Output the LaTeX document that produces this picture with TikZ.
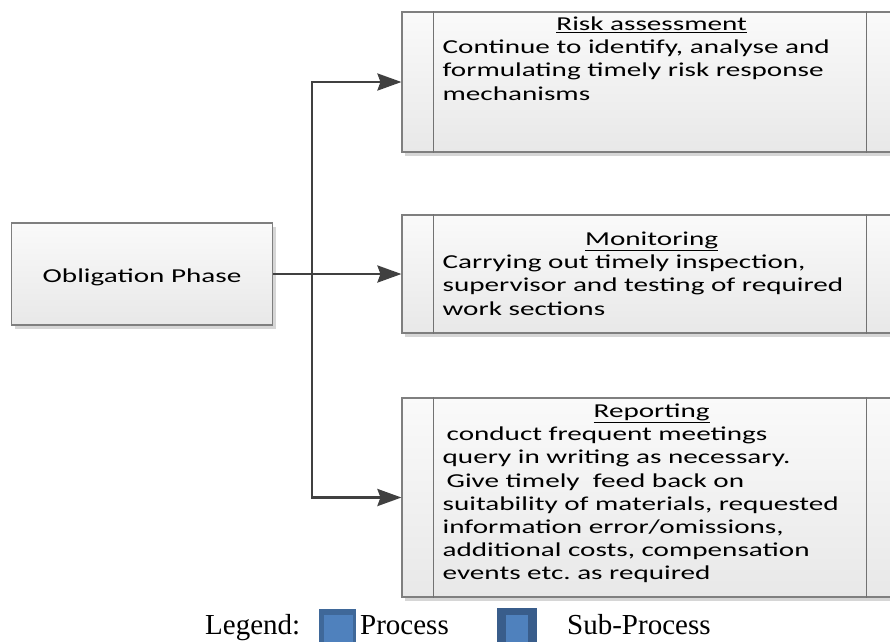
\documentclass[tikz,border=0pt]{standalone}
\usepackage{fontspec}
\setmainfont{Liberation Serif}
\newfontfamily\boxfont[FakeStretch=1.48]{Carlito}
\usetikzlibrary{arrows.meta,shadows}
\frenchspacing

\definecolor{edgegray}{HTML}{7F7F7F}
\definecolor{linkgray}{HTML}{404040}
\definecolor{procfill}{HTML}{4F81BD}
\definecolor{procedge}{HTML}{3F6899}
\definecolor{subedge}{HTML}{395D8B}

\begin{document}
\begin{tikzpicture}[x=1pt,y=-1pt,
  card/.style={rectangle, draw=edgegray, line width=1.1pt,
    top color=white!98!black, bottom color=white!91!black,
    drop shadow={shadow xshift=3pt, shadow yshift=-4pt, fill=black!16, opacity=1},
    inner sep=0pt},
  divider/.style={draw=edgegray!90!black, line width=1.1pt},
  link/.style={draw=linkgray, line width=2.8pt},
  linkarrow/.style={link, -{Stealth[length=24pt,width=17pt,inset=3pt]}},
  boxfontsize/.style={font=\boxfont\fontsize{19.7}{23.2}\selectfont},
  boxtext/.style={anchor=base west, inner sep=0pt, boxfontsize},
  legendtext/.style={anchor=base west, inner sep=0pt, font=\fontsize{29}{30}\selectfont}]
\useasboundingbox (0,0) rectangle (890,641);
\clip (0,0) rectangle (890,641);

% phase box on the left
\node[card, minimum width=261pt, minimum height=102pt, boxfontsize,
      text height=16pt, text depth=0pt] (phase) at (142,274) {Obligation Phase};

% activity boxes on the right
\node[card, minimum width=496pt, minimum height=140pt] (risk) at (650,82) {};
\node[card, minimum width=496pt, minimum height=118pt] (monitor) at (650,274) {};
\node[card, minimum width=496pt, minimum height=199pt] (report) at (650,497.5) {};

% inner side bars of the activity boxes
\foreach \b in {risk,monitor,report}{
  \draw[divider] ([xshift=32pt]\b.north west) -- ([xshift=32pt]\b.south west);
  \draw[divider] ([xshift=-32pt]\b.north east) -- ([xshift=-32pt]\b.south east);
}

% box texts
\node[boxtext] (risktxt) at ([xshift=41pt,yshift=-19pt]risk.north west)
  {\parbox[t]{418pt}{\centering\underline{Risk assessment}\par\raggedright
   Continue to identify, analyse and\\
   formulating timely risk response\\
   mechanisms}};
\node[boxtext] (monitortxt) at ([xshift=41pt,yshift=-31pt]monitor.north west)
  {\parbox[t]{418pt}{\centering\underline{Monitoring}\par\raggedright
   Carrying out timely inspection,\\
   supervisor and testing of required\\
   work sections}};
\node[boxtext] (reporttxt) at ([xshift=41pt,yshift=-20pt]report.north west)
  {\parbox[t]{418pt}{\centering\underline{Reporting}\par\raggedright
   \hspace*{4pt}conduct frequent meetings\\
   query in writing as necessary.\\
   \hspace*{4pt}Give timely\ \ feed back on\\
   suitability of materials, requested\\
   information error/omissions,\\
   additional costs, compensation\\
   events etc. as required}};

% connectors
\coordinate (fork) at (312,274);
\draw[linkarrow] (phase.east) -- (monitor.west);
\draw[linkarrow] (fork) |- (risk.west);
\draw[linkarrow] (fork) |- (report.west);

% legend
\node[legendtext] (legend) at (205,634) {Legend:};
\fill[procedge] (319,609) rectangle (356,650);
\fill[procfill] (324,615) rectangle (353,650);
\node[legendtext] (proclabel) at (360,634) {Process};
\fill[subedge] (497,608) rectangle (537,650);
\fill[procfill] (506,615) rectangle (528,650);
\node[legendtext] (sublabel) at (567,634) {Sub-Process};
\end{tikzpicture}
\end{document}
